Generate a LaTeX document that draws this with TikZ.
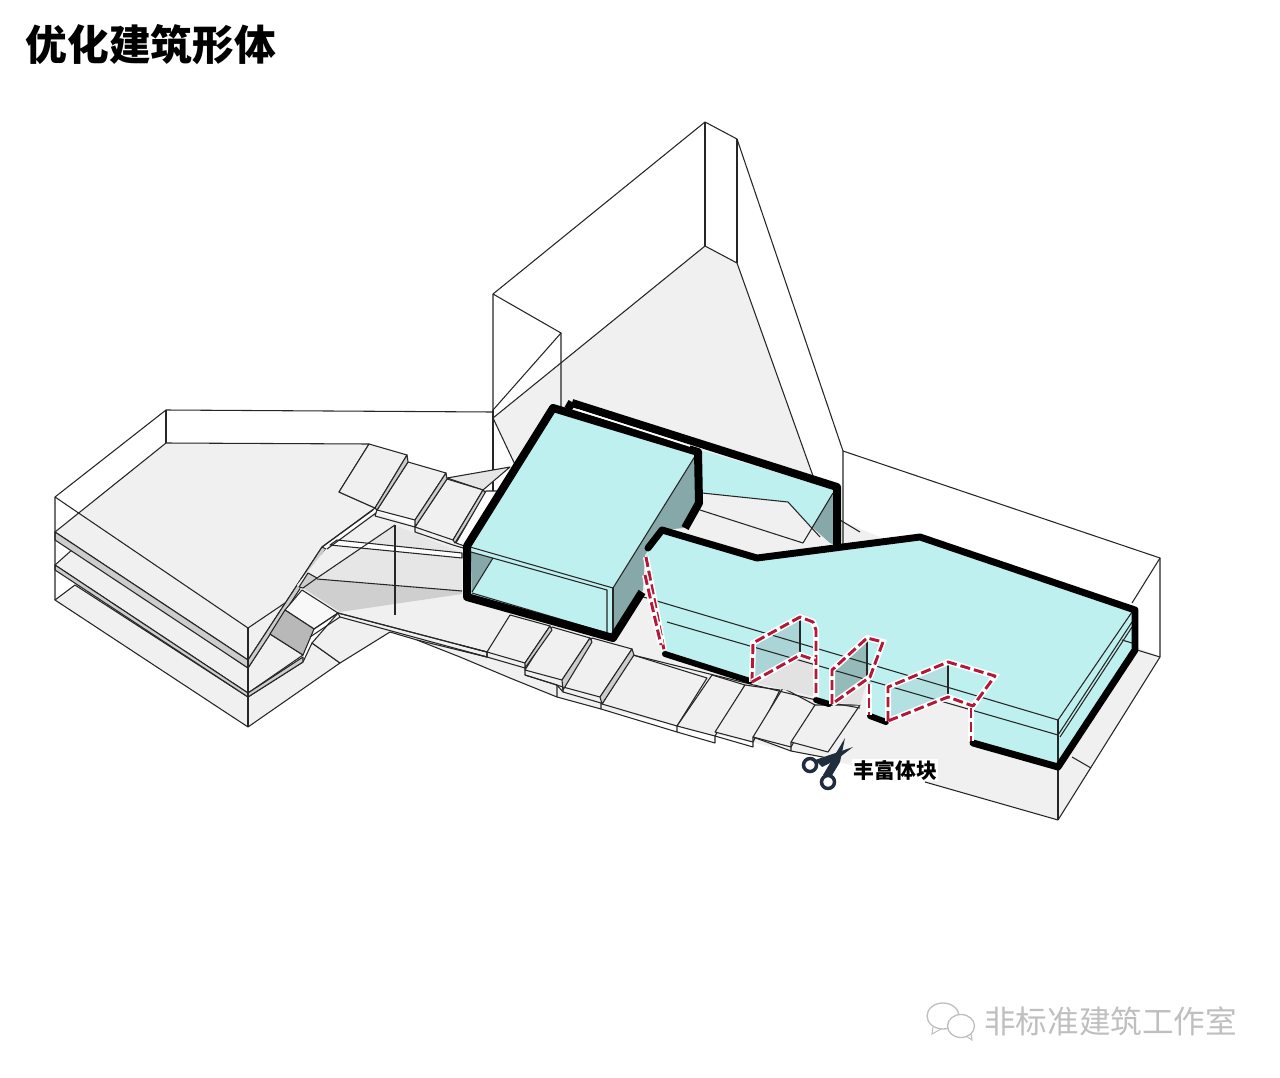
\documentclass[tikz,border=0pt]{standalone}
\usepackage{fontspec}
\newfontfamily\cjk{Noto Sans CJK SC}
\definecolor{floorgrey}{RGB}{240,240,240}
\definecolor{slabgrey}{RGB}{205,205,205}
\definecolor{fangrey}{RGB}{207,207,207}
\definecolor{hazegrey}{RGB}{230,230,230}
\definecolor{notchgrey}{RGB}{226,226,226}
\definecolor{stepgrey}{RGB}{184,184,184}
\definecolor{roofcyan}{RGB}{190,240,239}
\definecolor{sidecyan}{RGB}{134,168,168}
\definecolor{wallcyan}{RGB}{170,212,214}
\definecolor{cutred}{RGB}{178,24,56}
\definecolor{inkblue}{RGB}{31,45,61}
\tikzset{
  thinline/.style={line width=0.8pt,draw=black!85,line join=round},
  floorface/.style={thinline,fill=floorgrey},
  heavyline/.style={line width=6pt,draw=black,line join=round},
  midline/.style={line width=4.5pt,draw=black,line cap=round,line join=round},
  cutline/.style={line width=2.2pt,draw=cutred,dash pattern=on 7.5pt off 3pt,line join=round,
    preaction={draw=white,line width=4.5pt,solid}},
  labeltext/.style={inner sep=1pt,font=\cjk\bfseries}
}
\begin{document}
\begin{tikzpicture}[x=0.75pt,y=0.75pt,yscale=-1,xscale=1]
\useasboundingbox (0,0) rectangle (1280,1077);

%Shape: north volume
\draw [floorface] (493,418) -- (705,246) -- (737,263) -- (843,560) -- (560,560) -- cycle ;
\draw [thinline] (493,410) -- (493,294) -- (705,122) -- (737,139) -- (843,451) ;
\draw [thinline] (705,122) -- (705,246) ;
\draw [thinline] (737,139) -- (737,263) ;
\draw [thinline] (493,294) -- (561,333) -- (561,410) ;
\draw [thinline] (561,333) -- (493,410) ;
\draw [thinline] (493,410) -- (493,492) ;

%Shape: east volume
\fill [floorgrey] (417,640) -- (460,600) -- (510,600) -- (645,555) -- (840,520) -- (1160,657) -- (1058,820) -- (925,782) -- (791,751) -- (601,709) -- (557,697) -- (510,678) -- (460,657) -- cycle ;
\draw [thinline] (843,545) -- (843,451) -- (1160,558) -- (1160,657) -- (1058,820) -- (925,782) ;
\draw [thinline] (840,520) -- (860,532) ;
\draw [thinline] (1160,558) -- (1132,603) ;
\draw [thinline] (1137,650) -- (1160,657) ;
\draw [thinline] (1072,757) -- (1091,768) ;
\draw [thinline] (1058,767) -- (1058,820) ;

%Shape: west volume floors
\draw [floorface] (55,565) -- (73,549) -- (248,668) -- (270,634) -- (303,655) -- (248,693) -- cycle ;
\draw [floorface] (55,600) -- (75,585) -- (248,697) -- (303,662) -- (312,643) -- (340,663) -- (248,727) -- cycle ;
\draw [thinline,fill=slabgrey] (55,565) -- (248,693) -- (303,657) -- (303,662) -- (248,697) -- (55,570) -- cycle ;
\draw [floorface] (166,443) -- (369,444) -- (339,492) -- (375,508) -- (322,547) -- (248,660) -- (55,532) -- cycle ;
\draw [thinline,fill=slabgrey] (55,532) -- (248,660) -- (322,547) -- (326,549) -- (248,668) -- (55,540) -- cycle ;
\draw [thinline] (55,600) -- (55,497) -- (166,410) -- (492,412) ;
\draw [thinline] (166,410) -- (166,443) ;
\draw [thinline] (55,497) -- (248,628) -- (285,603) ;
\draw [thinline] (248,628) -- (248,727) ;

%Shape: ramp between west volume and boxes
\fill [floorgrey] (326,549) -- (376,511) -- (415,527) -- (475,550) -- (475,600) -- (510,640) -- (487,652) -- (338,613) -- (302,590) -- (297,585) -- cycle ;
\draw [floorface] (312,643) -- (338,613) -- (487,652) -- (487,657) -- (417,640) -- (390,632) -- (340,663) -- cycle ;
\draw [thinline,fill=hazegrey] (447,478) -- (510,467) -- (483,490) -- cycle ;
\fill [hazegrey] (317,578) -- (395,525) -- (462,553) -- (462,591) -- cycle ;
\fill [fangrey] (317,579) -- (462,591) -- (462,594) -- (340,612) -- (303,588) -- cycle ;
\draw [thinline,fill=white] (330,545) -- (462,558) -- (462,553) -- (337,540) -- cycle ;
\draw [thinline] (373,510) -- (322,547) ;
\draw [thinline] (376,513) -- (327,549) ;
\draw [thinline] (395,525) -- (395,615) ;
\draw [thinline] (395,525) -- (317,578) ;
\draw [thinline] (317,579) -- (462,591) ;
\draw [thinline,fill=slabgrey] (308,573) -- (317,578) -- (303,588) -- (299,587) -- cycle ;
\draw [thinline,fill=floorgrey!50!white] (302,590) -- (338,613) -- (314,629) -- (285,610) -- cycle ;
\draw [thinline,fill=stepgrey] (285,610) -- (314,629) -- (303,655) -- (270,634) -- cycle ;
\draw [thinline] (314,629) -- (338,613) -- (340,617) -- (310,637) ;
\draw [thinline] (338,613) -- (487,652) ;
\draw [thinline] (340,617) -- (487,657) ;

%Shape: north-west stair
\draw [floorface] (369,444) -- (407,455) -- (375,508) -- (339,492) -- cycle ;
\draw [floorface] (408,462) -- (446,473) -- (415,520) -- (377,510) -- cycle ;
\draw [floorface] (447,479) -- (483,490) -- (453,540) -- (415,527) -- cycle ;
\draw [thinline,fill=slabgrey] (407,455) -- (408,462) -- (377,510) -- (375,508) -- cycle ;
\draw [thinline,fill=slabgrey] (446,473) -- (447,479) -- (415,527) -- (415,520) -- cycle ;
\draw [thinline,fill=slabgrey] (483,490) -- (486,493) -- (455,543) -- (453,540) -- cycle ;
\draw [thinline] (377,510) -- (375,516) -- (415,527) -- (415,532) -- (453,545) -- (470,550) ;
\draw [thinline,fill=white] (486,491) -- (500,491) -- (470,548) -- (456,543) -- cycle ;

%Shape: south stair
\draw [floorface] (510,615) -- (487,652) -- (525,663) -- (550,626) -- cycle ;
\draw [floorface] (552,627) -- (525,670) -- (562,680) -- (590,638) -- cycle ;
\draw [floorface] (592,638) -- (563,687) -- (600,697) -- (632,649) -- cycle ;
\draw [floorface] (633,655) -- (602,704) -- (677,726) -- (707,678) -- cycle ;
\draw [floorface] (712,675) -- (677,726) -- (715,736) -- (745,685) -- cycle ;
\draw [floorface] (745,685) -- (715,732) -- (753,742) -- (780,690) -- cycle ;
\draw [floorface] (783,688) -- (753,737) -- (791,747) -- (815,705) -- cycle ;
\draw [floorface] (815,705) -- (791,742) -- (828,752) -- (860,705) -- cycle ;
\draw [thinline,fill=slabgrey] (550,626) -- (552,630) -- (525,668) -- (525,663) -- cycle ;
\draw [thinline,fill=slabgrey] (590,638) -- (592,642) -- (563,690) -- (562,680) -- cycle ;
\draw [thinline,fill=slabgrey] (632,649) -- (634,655) -- (602,704) -- (600,697) -- cycle ;
\draw [thinline] (460,645) -- (487,652) -- (487,657) -- (525,668) -- (525,675) -- (557,685) -- (557,697) ;
\draw [thinline] (460,650) -- (487,657) ;
\draw [thinline] (525,675) -- (563,687) -- (563,692) -- (601,703) -- (601,709) -- (677,732) -- (677,726) ;
\draw [thinline] (557,685) -- (563,692) ;
\draw [thinline] (677,732) -- (715,743) -- (715,736) -- (753,747) -- (753,737) -- (791,751) -- (791,742) ;
\draw [thinline] (417,640) -- (460,657) -- (510,678) -- (557,697) -- (601,709) ;
\draw [thinline] (791,751) -- (828,758) ;
\draw [thinline] (633,655) -- (750,684) -- (816,700) ;
\draw [thinline] (832,703) -- (860,708) ;

%Shape: back box
\fill [roofcyan] (700,450) -- (837,490) -- (833,493) -- (812,527) -- (788,502) -- (702,493) -- cycle ;
\fill [sidecyan] (833,493) -- (835,545) -- (830,543) -- (812,527) -- cycle ;
\draw [thinline] (702,493) -- (788,502) -- (820,537) ;
\draw [thinline] (700,510) -- (803,543) -- (833,493) ;

%Shape: long block
\fill [roofcyan] (662,530) -- (757,558) -- (920,537) -- (1135,610) -- (1135,650) -- (1058,767) -- (971,743) -- (971,706) -- (948,697) -- (888,722) -- (869,715) -- (869,684) -- (832,704) -- (816,697) -- (815,660) -- (800,655) -- (750,682) -- (663,654) -- (646,555) -- cycle ;
\fill [notchgrey] (752,682) -- (800,655) -- (815,660) -- (816,697) -- cycle ;
\fill [notchgrey] (832,702) -- (868,677) -- (860,705) -- cycle ;
\fill [wallcyan] (753,643) -- (800,617) -- (800,655) -- (752,682) -- cycle ;
\fill [sidecyan!75!roofcyan] (832,670) -- (867,638) -- (867,677) -- (832,702) -- cycle ;
\fill [wallcyan!55!roofcyan] (888,687) -- (948,662) -- (948,697) -- (888,720) -- cycle ;
\draw [thinline] (613,588) -- (1058,720) -- (1132,612) ;
\draw [thinline] (667,622) -- (1058,735) -- (1132,622) ;
\draw [thinline] (1060,737) -- (1132,627) ;
\draw [thinline] (1058,720) -- (1058,763) ;
\draw [thinline] (1122,640) -- (1132,643) ;
\draw [thinline] (800,617) -- (800,655) ;
\draw [thinline] (867,638) -- (867,677) ;
\draw [thinline] (948,662) -- (948,697) ;

%Shape: front box
\fill [sidecyan] (697,453) -- (700,500) -- (684,528) -- (662,530) -- (645,555) -- (643,590) -- (613,637) -- (613,588) -- cycle ;
\fill [roofcyan] (553,408) -- (697,453) -- (613,588) -- (467,546) -- cycle ;
\fill [roofcyan] (470,548) -- (613,588) -- (613,637) -- (470,595) -- cycle ;
\fill [sidecyan] (471,552) -- (493,558) -- (472,592) -- cycle ;
\fill [sidecyan] (613,588) -- (635,595) -- (613,633) -- cycle ;
\draw [thinline] (697,453) -- (613,588) -- (470,547) ;
\draw [thinline] (613,588) -- (613,635) ;
\draw [thinline] (471,552) -- (607,590) -- (607,633) -- (472,593) ;
\draw [thinline] (493,558) -- (472,592) ;

%Straight Lines: heavy outlines
\draw [heavyline] (572,402) -- (568,409) ;
\draw [heavyline] (572,403) -- (837,487) -- (837,545) ;
\draw [heavyline] (685,528) -- (699,503) -- (698,452) -- (553,408) -- (467,546) -- (467,597) -- (613,638) -- (642,592) ;
\draw [white,line width=1.2pt] (578,410) -- (690,446) ;
\draw [midline,line width=5.2pt] (648,548) -- (662,530) -- (757,558) -- (920,537) -- (1135,610) -- (1135,650) -- (1058,767) -- (973,743) ;
\draw [midline] (665,654) -- (750,681) ;
\draw [midline] (816,700) -- (829,704) ;
\draw [midline] (870,716) -- (886,722) ;

%Straight Lines: cut marks
\draw [cutline] (646,557) -- (664,650) ;
\draw [cutline] (645,575) -- (661,645) ;
\draw [cutline] (752,682) -- (753,643) -- (800,617) -- (813,622) -- (816,630) -- (816,697) ;
\draw [cutline] (752,682) -- (800,655) -- (815,660) ;
\draw [cutline] (832,704) -- (832,670) -- (867,638) -- (883,642) -- (870,677) -- (832,704) ;
\draw [cutline] (869,684) -- (869,715) ;
\draw [cutline] (888,721) -- (888,687) -- (948,662) -- (995,676) -- (973,706) -- (948,697) -- (888,721) ;
\draw [cutline] (971,708) -- (971,741) ;

%Shape: scissors
\draw [inkblue,line width=2.6pt] (810,765) circle [radius=6.5] ;
\draw [inkblue,line width=2.6pt] (828,782) circle [radius=6.5] ;
\fill [inkblue] (815,760) -- (853,747) -- (836,760) -- (822,767) -- cycle ;
\fill [inkblue] (823,775) -- (845,738) -- (840,762) -- (831,777) -- cycle ;

% Text Node
\node (title) [labeltext,anchor=west,font=\cjk\bfseries\fontsize{31.3}{36}\selectfont] at (24,45) {优化建筑形体};
% Text Node
\node (cutlabel) [labeltext,fill=white,anchor=west,font=\cjk\bfseries\fontsize{15.6}{18}\selectfont] at (852,770) {丰富体块};
% Text Node
\node (watermark) [inner sep=0pt,anchor=west,text=black!25,font=\cjk\fontsize{23.7}{28}\selectfont] at (984,1021) {非标准建筑工作室};

%Shape: chat bubbles of the watermark
\draw [black!25,line width=1pt] (943,1016) ellipse [x radius=16,y radius=13] ;
\draw [black!25,line width=1pt,fill=white] (961,1026) ellipse [x radius=13.5,y radius=11.5] ;
\draw [black!25,line width=0.75pt] (933,1027) -- (932,1034) -- (941,1029) ;
\draw [black!25,line width=0.75pt] (966,1036) -- (972,1040) -- (971,1034) ;
\end{tikzpicture}
\end{document}
